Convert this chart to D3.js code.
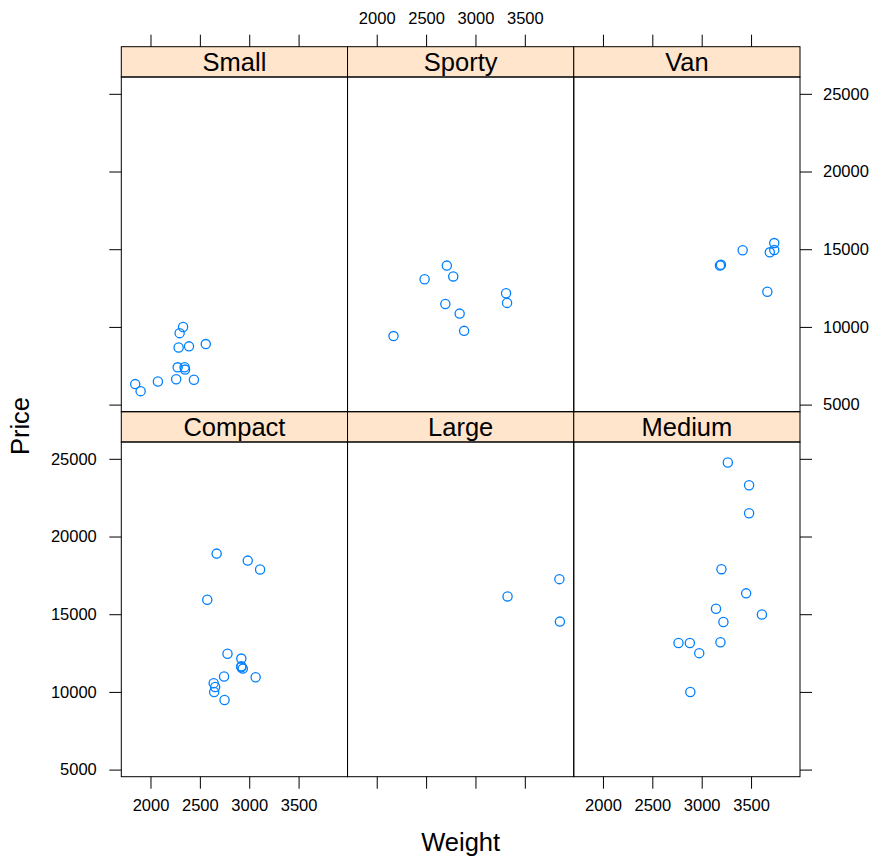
<!DOCTYPE html>
<html>
<head>
<meta charset="utf-8">
<title>Price vs Weight by Type</title>
<script src="https://d3js.org/d3.v7.min.js"></script>
<style>
  body { margin: 0; background: #fff; }
  svg text { font-family: "Liberation Sans", Arial, Helvetica, sans-serif; fill: #000; }
</style>
</head>
<body>
<svg id="chart" width="872" height="856"></svg>
<script>
// panel order as lattice lays it out (bottom row first)
const types = ["Compact", "Large", "Medium", "Small", "Sporty", "Van"];

const compactWeight = [2670, 2640, 2655, 3065, 2750, 2920, 2780, 2745, 3110, 2920, 2645, 2575, 2935, 2920, 2985];
const compactPrice  = [18900, 10565, 10320, 10945, 9483, 12145, 12459, 10989, 17879, 11650, 9995, 15930, 11499, 11588, 18450];

const largeWeight = [3325, 3855, 3850];
const largePrice  = [16145, 14525, 17257];

const mediumWeight = [3265, 2880, 2975, 3450, 3145, 3190, 3610, 2885, 3480, 3200, 2765, 3220, 3480];
const mediumPrice  = [24760, 13150, 12495, 16342, 15350, 13195, 14980, 9999, 23300, 17899, 13150, 14495, 21498];

const smallWeight = [2560, 2345, 1845, 2260, 2440, 2285, 2275, 2350, 2295, 1900, 2390, 2075, 2330];
const smallPrice  = [8895, 7402, 6319, 6635, 6599, 8672, 7399, 7254, 9599, 5866, 8748, 6488, 9995];

const sportyWeight = [3320, 2885, 3310, 2695, 2170, 2710, 2775, 2840, 2485];
const sportyPrice  = [11545, 9745, 12164, 11470, 9410, 13945, 13249, 10855, 13071];

const vanWeight = [3195, 3735, 3665, 3735, 3415, 3185, 3690];
const vanPrice  = [13995, 15395, 12267, 14944, 14929, 13949, 14799];

const xTicks = [2000, 2500, 3000, 3500];
const yTicks = [5000, 10000, 15000, 20000, 25000];

const weightByType = [compactWeight, largeWeight, mediumWeight, smallWeight, sportyWeight, vanWeight];
const priceByType  = [compactPrice, largePrice, mediumPrice, smallPrice, sportyPrice, vanPrice];

// lattice style range padding
function extendRange(vals) {
    const [lo, hi] = d3.extent(vals);
    const pad = 0.07 * (hi - lo);
    return [lo - pad, hi + pad];
}

const xDomain = extendRange(weightByType.flat());
const yDomain = extendRange(priceByType.flat());

const svg = d3.select("#chart");

const plotLeft = 121.3, plotRight = 800, plotTop = 46.7, rowH = 365, stripH = 30.3;
const colW = (plotRight - plotLeft) / 3;
const tickLen = 12;
const lineCol = "#000";
const labelSize = 25.5;

// row 0 = top row, row 1 = bottom row
function panelBox(i) {
    const col = i % 3;
    const row = i < 3 ? 1 : 0;
    const x = plotLeft + col * colW;
    const stripTop = plotTop + row * rowH;
    return { col, row, x, stripTop, y0: stripTop + stripH, y1: stripTop + rowH };
}

function styleAxis(ax) {
    ax.select(".domain").remove();
    ax.selectAll(".tick line").attr("stroke", lineCol).attr("stroke-width", 1);
    ax.selectAll(".tick text").attr("font-size", 16.5).attr("fill", "#000");
    ax.attr("font-family", null).attr("font-size", null);
}

types.forEach((type, i) => {
    const b = panelBox(i);
    const xs = d3.scaleLinear().domain(xDomain).range([b.x, b.x + colW]);
    const ys = d3.scaleLinear().domain(yDomain).range([b.y1, b.y0]);
    const g = svg.append("g");

    // strip
    g.append("rect")
        .attr("x", b.x).attr("y", b.stripTop)
        .attr("width", colW).attr("height", stripH)
        .attr("fill", "#ffe5cc").attr("stroke", lineCol).attr("stroke-width", 1);
    g.append("text")
        .attr("x", b.x + colW / 2).attr("y", b.stripTop + stripH / 2 + 9.5)
        .attr("text-anchor", "middle").attr("font-size", labelSize)
        .text(type);

    // panel box
    g.append("rect")
        .attr("x", b.x).attr("y", b.y0)
        .attr("width", colW).attr("height", b.y1 - b.y0)
        .attr("fill", "none").attr("stroke", lineCol).attr("stroke-width", 1);

    // x axis: bottom for bottom row, top (above strip) for top row
    if (b.row === 1) {
        const ax = g.append("g").attr("transform", `translate(0,${b.y1})`)
            .call(d3.axisBottom(xs).tickValues(xTicks).tickSizeOuter(0).tickSizeInner(tickLen).tickPadding(11)
                .tickFormat(b.col === 1 ? "" : d3.format("d")));
        styleAxis(ax);
    } else {
        const ax = g.append("g").attr("transform", `translate(0,${b.stripTop})`)
            .call(d3.axisTop(xs).tickValues(xTicks).tickSizeOuter(0).tickSizeInner(tickLen).tickPadding(11)
                .tickFormat(b.col === 1 ? d3.format("d") : ""));
        styleAxis(ax);
    }

    // y axis: left on first column, right on last column
    if (b.col === 0) {
        const ax = g.append("g").attr("transform", `translate(${b.x},0)`)
            .call(d3.axisLeft(ys).tickValues(yTicks).tickSizeOuter(0).tickSizeInner(tickLen).tickPadding(12.5)
                .tickFormat(b.row === 1 ? d3.format("d") : ""));
        styleAxis(ax);
    }
    if (b.col === 2) {
        const ax = g.append("g").attr("transform", `translate(${b.x + colW},0)`)
            .call(d3.axisRight(ys).tickValues(yTicks).tickSizeOuter(0).tickSizeInner(tickLen).tickPadding(11)
                .tickFormat(b.row === 0 ? d3.format("d") : ""));
        styleAxis(ax);
    }

    // points
    const pts = weightByType[i].map((w, k) => ({ w, p: priceByType[i][k] }));
    g.selectAll("circle").data(pts).join("circle")
        .attr("cx", d => xs(d.w)).attr("cy", d => ys(d.p))
        .attr("r", 4.6)
        .attr("fill", "none").attr("stroke", "#0080ff").attr("stroke-width", 1.3);
});

// axis titles
svg.append("text")
    .attr("x", (plotLeft + plotRight) / 2).attr("y", 851)
    .attr("text-anchor", "middle").attr("font-size", labelSize)
    .text("Weight");
svg.append("text")
    .attr("transform", `translate(29,426)rotate(-90)`)
    .attr("text-anchor", "middle").attr("font-size", labelSize)
    .text("Price");
</script>
</body>
</html>
